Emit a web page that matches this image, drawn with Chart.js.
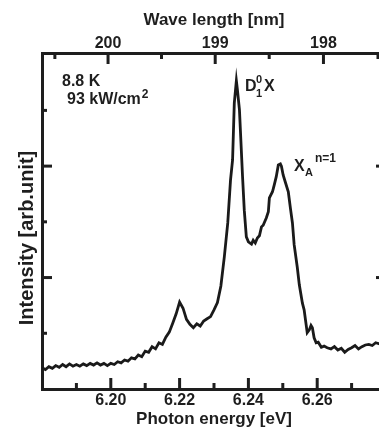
<!DOCTYPE html>
<html><head><meta charset="utf-8">
<script src="https://cdn.jsdelivr.net/npm/chart.js@4.4.0/dist/chart.umd.min.js"></script>
<style>
html,body{margin:0;padding:0;background:#fff;overflow:hidden;width:379px;height:430px}
#wrap{width:392px;height:430px}
canvas{display:block}
</style></head><body>
<div id="wrap"><canvas id="c" width="392" height="430"></canvas></div>
<script>
// Photon energy [eV]
const energy = [
6.1800,6.1810,6.1820,6.1830,6.1840,6.1850,6.1860,6.1870,6.1880,6.1890,
6.1900,6.1910,6.1920,6.1930,6.1940,6.1950,6.1960,6.1970,6.1980,6.1990,
6.2000,6.2010,6.2020,6.2030,6.2040,6.2050,6.2060,6.2070,6.2080,6.2090,
6.2100,6.2110,6.2120,6.2130,6.2140,6.2150,6.2160,6.2170,6.2180,6.2190,
6.2200,6.2210,6.2220,6.2230,6.2240,6.2250,6.2260,6.2270,6.2280,6.2290,
6.2300,6.2310,6.2320,6.2330,6.2340,6.2348,6.2354,6.2359,6.2365,6.2368,
6.2374,6.2383,6.2388,6.2394,6.2400,6.2409,6.2414,6.2420,6.2426,6.2432,
6.2438,6.2443,6.2452,6.2458,6.2461,6.2470,6.2475,6.2481,6.2487,6.2493,
6.2496,6.2501,6.2507,6.2516,6.2522,6.2528,6.2533,6.2542,6.2548,6.2557,
6.2562,6.2571,6.2577,6.2582,6.2586,6.2591,6.2597,6.2603,6.2612,6.2620,
6.2629,6.2640,6.2650,6.2660,6.2670,6.2680,6.2690,6.2700,6.2710,6.2720,
6.2730,6.2740,6.2750,6.2760,6.2770,6.2780,6.2790,6.2800
];
// Intensity [arb.unit]
const intensity = [
0.38,0.35,0.40,0.37,0.42,0.39,0.44,0.40,0.45,0.41,
0.44,0.41,0.45,0.42,0.46,0.43,0.47,0.43,0.46,0.42,
0.46,0.44,0.49,0.47,0.52,0.50,0.56,0.54,0.61,0.58,
0.68,0.66,0.76,0.72,0.83,0.80,0.93,1.02,1.18,1.35,
1.56,1.45,1.25,1.16,1.10,1.17,1.13,1.22,1.26,1.30,
1.42,1.55,1.85,2.37,2.98,3.75,4.11,5.13,5.53,5.37,
5.01,3.81,3.21,2.73,2.64,2.60,2.67,2.62,2.71,2.75,
2.91,2.94,3.07,3.18,3.43,3.54,3.66,3.81,4.02,4.04,
4.00,3.84,3.72,3.54,3.25,2.98,2.59,2.19,1.87,1.54,
1.42,1.01,1.06,1.14,1.10,0.92,0.83,0.84,0.75,0.77,
0.74,0.72,0.76,0.70,0.73,0.66,0.71,0.74,0.78,0.72,
0.76,0.79,0.80,0.78,0.83,0.81,0.84,0.83
];
// bottom axis ticks (eV) and labels
const energyTicks = [6.19,6.20,6.21,6.22,6.23,6.24,6.25,6.26,6.27];
const energyTickLabels = ['','6.20','','6.22','','6.24','','6.26',''];
// top axis ticks (nm) and labels
const wavelengthTicks = [200.5,200,199.5,199,198.5,198,197.5];
const wavelengthTickLabels = ['','200','','199','','198',''];
// intensity tick marks (unlabelled), major flags
const intensityTicks = [1,2,3,4,5];
const intensityMajor = [false,true,false,true,false];

const HC = 1239.84; // eV*nm
const INK = '#1e1e1e';
const FONT = "'Liberation Sans', Arial, Helvetica, sans-serif";

const inwardTicks = {
  id: 'inwardTicks',
  afterDraw(chart) {
    const {ctx, chartArea: a, scales} = chart;
    ctx.save();
    ctx.strokeStyle = INK;
    ctx.lineCap = 'butt';
    const vline = (x, y0, y1, w) => { ctx.lineWidth = w; ctx.beginPath(); ctx.moveTo(x, y0); ctx.lineTo(x, y1); ctx.stroke(); };
    const hline = (y, x0, x1, w) => { ctx.lineWidth = w; ctx.beginPath(); ctx.moveTo(x0, y); ctx.lineTo(x1, y); ctx.stroke(); };
    energyTicks.forEach((v, i) => {
      const x = scales.x.getPixelForValue(v);
      const major = energyTickLabels[i] !== '';
      vline(x, a.bottom, a.bottom - (major ? 11 : 6), 3);
    });
    wavelengthTicks.forEach((w, i) => {
      const x = scales.x2.getPixelForValue(HC / w);
      const major = wavelengthTickLabels[i] !== '';
      vline(x, a.top, a.top + (major ? 11 : 6), 3);
    });
    intensityTicks.forEach((v, i) => {
      const y = scales.y.getPixelForValue(v);
      const major = intensityMajor[i];
      hline(y, a.left, a.left + (major ? 10 : 5), 3);
      hline(y, a.right, a.right - (major ? 10 : 5), major ? 3 : 2);
    });
    ctx.restore();
  }
};

const notes = {
  id: 'notes',
  afterDraw(chart) {
    const {ctx} = chart;
    ctx.save();
    ctx.fillStyle = INK;
    ctx.textBaseline = 'alphabetic';
    ctx.textAlign = 'left';
    const big = 'bold 16px ' + FONT, small = 'bold 11px ' + FONT, small2 = 'bold 12px ' + FONT;
    // y-axis title
    ctx.save();
    ctx.translate(33, 238);
    ctx.rotate(-Math.PI / 2);
    ctx.textAlign = 'center';
    ctx.font = 'bold 20px ' + FONT;
    ctx.fillText('Intensity [arb.unit]', 0, 0);
    ctx.restore();
    // conditions
    ctx.font = big;
    ctx.fillText('8.8 K', 62, 86);
    const t2 = '93 kW/cm';
    ctx.fillText(t2, 67, 104);
    const w2 = ctx.measureText(t2).width;
    ctx.font = small2; ctx.fillText('2', 67 + w2 + 1, 98);
    // D1^0 X
    ctx.font = big; ctx.fillText('D', 245, 91);
    ctx.font = small; ctx.fillText('0', 256, 83); ctx.fillText('1', 256, 97);
    ctx.font = big; ctx.fillText('X', 264, 91);
    // X_A^{n=1}
    ctx.font = big; ctx.fillText('X', 294, 171);
    ctx.font = small; ctx.fillText('A', 305, 176);
    ctx.font = small2; ctx.fillText('n=1', 315, 162);
    ctx.restore();
  }
};

const tickFont = {family: FONT, size: 16, weight: 'bold'};
const titleFont = {family: FONT, size: 17, weight: 'bold'};
new Chart(document.getElementById('c'), {
  type: 'line',
  data: {
    datasets: [{
      data: energy.map((e, i) => ({x: e, y: intensity[i]})),
      borderColor: '#1a1a1a', borderWidth: 2.8, pointRadius: 0, tension: 0, fill: false,
      xAxisID: 'x', yAxisID: 'y'
    }]
  },
  options: {
    responsive: false, animation: false, devicePixelRatio: 1,
    layout: {padding: 0},
    plugins: {legend: {display: false}, tooltip: {enabled: false}},
    scales: {
      x: {
        type: 'linear', position: 'bottom', min: 6.18, max: 6.28,
        afterBuildTicks: s => { s.ticks = energyTicks.map(v => ({value: v})); },
        ticks: {callback: (v, i) => energyTickLabels[i], font: tickFont, color: INK, padding: 2, maxRotation: 0, autoSkip: false},
        grid: {display: false, drawTicks: false},
        border: {display: true, width: 3, color: INK},
        title: {display: true, text: 'Photon energy [eV]', font: titleFont, color: INK, padding: {top: 0, bottom: 0}},
        afterFit: s => { s.height = 41; }
      },
      x2: {
        type: 'linear', position: 'top', min: 6.18, max: 6.28,
        afterBuildTicks: s => { s.ticks = wavelengthTicks.map(w => ({value: HC / w})); },
        ticks: {callback: (v, i) => wavelengthTickLabels[i], font: tickFont, color: INK, padding: 0, maxRotation: 0, autoSkip: false},
        grid: {display: false, drawTicks: false},
        border: {display: true, width: 3, color: INK},
        title: {display: true, text: 'Wave length [nm]', font: titleFont, color: INK, padding: {top: 10, bottom: 0}},
        afterFit: s => { s.height = 53; }
      },
      y: {
        type: 'linear', position: 'left', min: 0, max: 6.03,
        ticks: {display: false, stepSize: 1},
        grid: {display: false, drawTicks: false},
        border: {display: true, width: 3, color: INK},
        afterFit: s => { s.width = 42; }
      },
      y2: {
        type: 'linear', position: 'right', min: 0, max: 6.03,
        ticks: {display: false, stepSize: 1},
        grid: {display: false, drawTicks: false},
        border: {display: true, width: 3, color: INK},
        afterFit: s => { s.width = 6; }
      }
    }
  },
  plugins: [inwardTicks, notes]
});
</script>
</body></html>
